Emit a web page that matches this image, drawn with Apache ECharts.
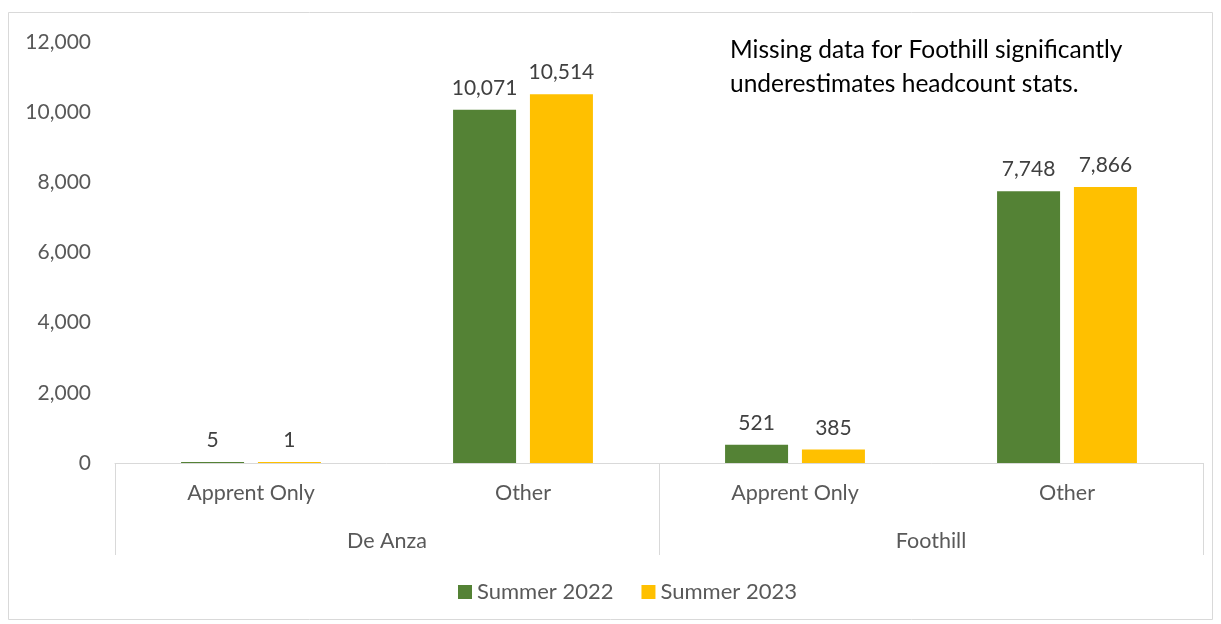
<!DOCTYPE html>
<html>
<head>
<meta charset="utf-8">
<script src="https://cdn.jsdelivr.net/npm/echarts@6/dist/echarts.min.js"></script>
<style>
  html, body { margin: 0; padding: 0; background: #fff; }
  #chart { width: 1221px; height: 624px; }
</style>
</head>
<body>
<div id="chart"></div>
<script>
// categories
const subCats = ['Apprent Only', 'Other', 'Apprent Only', 'Other'];
const colleges = ['De Anza', 'Foothill'];
// series values
const summer2022 = [5, 10071, 521, 7748];
const summer2023 = [1, 10514, 385, 7866];
const seriesNames = ['Summer 2022', 'Summer 2023'];
const note = 'Missing data for Foothill significantly\nunderestimates headcount stats.';

const font = 'Lato, "Open Sans", sans-serif';
const chart = echarts.init(document.getElementById('chart'));

const labelStyle = {
  show: true,
  position: 'top',
  distance: 11,
  color: '#404040',
  fontSize: 21,
  fontFamily: font,
  formatter: p => p.value.toLocaleString('en-US')
};

const option = {
  backgroundColor: '#fff',
  animation: false,
  color: ['#548235', '#FFC000'],
  grid: { left: 115, right: 18, top: 42, bottom: 161 },
  legend: {
    bottom: 16,
    left: 453,
    itemWidth: 14,
    itemHeight: 14,
    itemGap: 28,
    icon: 'rect',
    textStyle: { color: '#595959', fontSize: 22, fontFamily: font },
    data: seriesNames
  },
  graphic: [
    {
      type: 'rect',
      shape: { x: 8.5, y: 12.5, width: 1204, height: 607 },
      style: { fill: 'none', stroke: '#d9d9d9', lineWidth: 1 },
      silent: true
    },
    {
      type: 'text',
      left: 730,
      top: 33,
      style: {
        text: note,
        fill: '#000',
        fontSize: 24.5,
        lineHeight: 34,
        fontFamily: font
      }
    }
  ],
  xAxis: [
    {
      type: 'category',
      data: subCats,
      position: 'bottom',
      axisLine: { show: true, lineStyle: { color: '#d9d9d9', width: 1 } },
      axisTick: { show: false },
      axisLabel: { color: '#595959', fontSize: 21.5, fontFamily: font, margin: 19, interval: 0 }
    },
    {
      type: 'category',
      data: colleges,
      position: 'bottom',
      offset: 0,
      axisLine: { show: false },
      axisTick: { show: true, length: 92, lineStyle: { color: '#d9d9d9', width: 1 } },
      axisLabel: { color: '#595959', fontSize: 21.5, fontFamily: font, margin: 67 }
    }
  ],
  yAxis: {
    type: 'value',
    min: 0,
    max: 12000,
    interval: 2000,
    splitLine: { show: false },
    axisLine: { show: false },
    axisTick: { show: false },
    axisLabel: {
      color: '#595959',
      fontSize: 21,
      fontFamily: font,
      margin: 24,
      formatter: v => v.toLocaleString('en-US')
    }
  },
  series: [
    {
      name: seriesNames[0],
      type: 'bar',
      xAxisIndex: 0,
      data: summer2022,
      barWidth: 63,
      barGap: '22%',
      barMinHeight: 1,
      label: labelStyle
    },
    {
      name: seriesNames[1],
      type: 'bar',
      xAxisIndex: 0,
      data: summer2023,
      barWidth: 63,
      barGap: '22%',
      barMinHeight: 1,
      label: labelStyle
    }
  ]
};

chart.setOption(option);
</script>
</body>
</html>
